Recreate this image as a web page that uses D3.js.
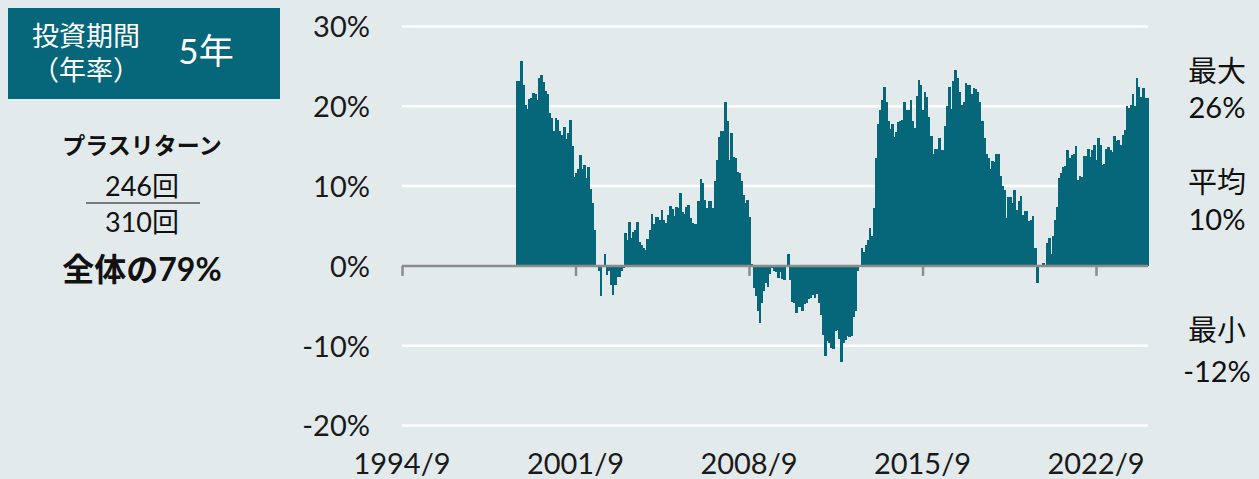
<!DOCTYPE html>
<html><head><meta charset="utf-8">
<script src="https://cdn.jsdelivr.net/npm/d3@7"></script>
<style>
html,body{margin:0;padding:0;background:#e3eaec;}
svg{display:block;}
text{font-family:Lato,"Noto Sans CJK JP",sans-serif;}
</style></head><body>
<svg id="c" width="1259" height="479"></svg>
<script>
// ---- data: 5-year annualised rolling returns (%), monthly, 310 observations ----
const returnsA = [23.2,23.2,25.7,22.7,20.2,19.6,20.9,21.0,21.7,21.6,20.8,23.6,23.9,23.1,21.9,21.6,19.2,18.5,16.9,18.5,18.3,16.9,16.4,17.4,15.9,16.6,18.3,15.0,11.2,11.7,12.2,13.9,12.1,12.7,11.0,12.4,9.6,7.9,4.5];
const returnsB = [0.1,-0.7,-3.8,0.0,1.5,-1.1,-0.6,-2.4,-3.7,-2.4,-1.4,-1.4,-0.6,-0.3];
const returnsC = [4.1,3.3,5.5,3.5,4.3,4.5,5.5,3.0,2.6,2.3,2.0,3.4,4.5,6.5,5.2,6.1,6.1,5.8,7.0,5.8,5.4,6.4,7.5,7.1,6.3,7.4,7.3,9.1,6.7,6.5,7.4,7.6,6.0,5.4,5.3,5.3,8.1,10.9,10.4,8.3,7.2,8.1,8.1,7.2,10.6,13.3,16.1,16.9,16.9];
const returnsD = [20.5,18.2,13.3,16.7,13.7,13.5,11.8,11.7,10.7,8.9,7.9,8.3,6.1,0.2,-2.8,-3.8,-5.7,-7.2,-4.7,-3.2,-2.2,-2.6,-1.0,-0.3,-0.7,-0.8,-1.5,-0.8,-1.6,-1.8,0.0,1.5,-1.8,-4.5,-4.6,-5.9,-5.1,-5.1,-5.7,-4.8,-4.6,-4.1,-4.0,-3.6,-4.0,-3.5,-4.7,-6.1,-8.6,-11.3,-9.4,-9.7,-10.3,-10.4,-8.1];
const returnsE = [-8.0,-9.2,-12.1,-9.7,-9.3,-8.8,-8.9,-8.8,-6.4,-5.7,-0.7,-0.2,2.2,1.7,2.6,3.3,4.7,3.7,7.3,13.5,17.8,19.5,20.8,22.4,20.5,18.2,17.1,17.8,16.1,16.8,18.0,18.1,18.3,20.6,19.5,19.5,20.8,18.2,17.3,21.3,23.3,22.7,19.5,21.8,21.2,18.7,16.3,14.0,14.7,14.6,16.0,14.5];
const returnsF = [14.5,17.5,20.0,22.4,19.6,23.2,24.6,23.5,21.8,20.2,20.6,22.9,22.7,22.7,21.5,22.3,22.2,21.8,20.6,18.1,16.0,14.0,13.5,12.1,13.1,13.0,14.0,14.0,11.3,10.0,9.5,6.0,8.6,8.6,7.9,9.5,7.0,8.1,8.8,6.4,6.9,6.9,5.6,5.8,6.2,2.3,-2.1,0.0,-0.1,0.4,0.0,2.9,3.5];
const returnsG = [1.5,3.7,5.7,7.4,11.0,11.7,12.4,12.5,14.5,13.5,13.9,14.0,15.0,10.8,11.3,11.2,13.8,13.8,14.6,13.6,14.5,15.1,13.3,16.0,15.2,12.7,12.8,14.6,14.9,14.5,14.3,16.3,15.7,15.8,15.2,16.4,17.0,20.0,19.8,20.2,21.6,20.0,23.5,22.4,21.2,22.3,21.0,21.0];

const xTickLabels = ["1994/9","2001/9","2008/9","2015/9","2022/9"];
const xTickMonths = [0,84,168,252,336];
const yTicks = [30,20,10,0,-10,-20];
const yTickLabels = ["30%","20%","10%","0%","-10%","-20%"];

const titleLines = ["投資期間","（年率）"];
const periodLabel = "5年";
const plusLabel = "プラスリターン";
const plusCount = "246回";
const totalCount = "310回";
const shareLabel = "全体の79%";
const statLabels = [["最大","26%"],["平均","10%"],["最小","-12%"]];

const values = [].concat(returnsA,returnsB,returnsC,returnsD,returnsE,returnsF,returnsG);

// ---- layout ----
const teal = "#06677b";
const svg = d3.select("#c");

const xMonth = d3.scaleLinear().domain([0,336]).range([402,1096]);
const barStart = 55.2, barEnd = 361.2;   // month positions of first / last bar edges
const plotLeft = xMonth(0), plotRight = xMonth(barEnd);
const xBar = d3.scaleBand().domain(d3.range(values.length)).range([xMonth(barStart), xMonth(barEnd)]).padding(0);
const y = d3.scaleLinear().domain([-20,30]).range([425.5,26.5]);

// gridlines
svg.append("g").selectAll("line").data(yTicks.filter(d=>d!==0)).join("line")
  .attr("x1",plotLeft).attr("x2",plotRight)
  .attr("y1",d=>y(d)).attr("y2",d=>y(d))
  .attr("stroke","#ffffff").attr("stroke-width",2.5);

// bars
svg.append("g").selectAll("rect").data(values).join("rect")
  .attr("x",(d,i)=>xBar(i))
  .attr("width",xBar.bandwidth()+0.6)
  .attr("y",d=>y(Math.max(0,d)))
  .attr("height",d=>Math.abs(y(d)-y(0)))
  .attr("fill",teal)
  .attr("shape-rendering","crispEdges");

// zero axis + ticks
const xAxis = d3.axisBottom(xMonth).tickValues(xTickMonths).tickSize(10).tickFormat("");
const gx = svg.append("g").attr("transform",`translate(0,${y(0)})`).call(xAxis);
gx.select(".domain").remove();
gx.selectAll(".tick line").attr("stroke","#8c8c8c").attr("stroke-width",2.5);
svg.append("line").attr("x1",plotLeft).attr("x2",plotRight).attr("y1",y(0)).attr("y2",y(0))
  .attr("stroke","#8c8c8c").attr("stroke-width",2.5);

// x labels
svg.append("g").selectAll("text").data(xTickMonths).join("text")
  .attr("x",d=>xMonth(d)).attr("y",474)
  .attr("text-anchor","middle").attr("font-size",29).attr("fill","#1a1a1a")
  .text((d,i)=>xTickLabels[i]);

// y labels
const yAxis = d3.axisLeft(y).tickValues(yTicks).tickSize(0).tickFormat((d,i)=>yTickLabels[i]);
const gy = svg.append("g").attr("transform",`translate(373,0)`).call(yAxis);
gy.select(".domain").remove();
gy.selectAll("text").attr("font-size",29).attr("fill","#1a1a1a")
  .attr("font-family",'Lato,"Noto Sans CJK JP",sans-serif').attr("dx",0).attr("dy","0.36em");

// title box
svg.append("rect").attr("x",8).attr("y",8).attr("width",272).attr("height",91).attr("fill",teal);
svg.append("text").attr("x",86).attr("y",46).attr("text-anchor","middle").attr("fill","#fff")
  .attr("font-size",27).text(titleLines[0]);
svg.append("text").attr("x",86).attr("y",80).attr("text-anchor","middle").attr("fill","#fff")
  .attr("font-size",27).text(titleLines[1]);
svg.append("text").attr("x",206).attr("y",64).attr("text-anchor","middle").attr("fill","#fff")
  .attr("font-size",35).text(periodLabel);

// plus-return block
svg.append("text").attr("x",142).attr("y",154).attr("text-anchor","middle").attr("fill","#111")
  .attr("font-size",23).attr("font-weight","bold").text(plusLabel);
svg.append("text").attr("x",142).attr("y",196).attr("text-anchor","middle").attr("fill","#111")
  .attr("font-size",27).text(plusCount);
svg.append("line").attr("x1",86).attr("x2",200).attr("y1",203).attr("y2",203)
  .attr("stroke","#555").attr("stroke-width",1.5);
svg.append("text").attr("x",142).attr("y",232).attr("text-anchor","middle").attr("fill","#111")
  .attr("font-size",27).text(totalCount);
svg.append("text").attr("x",142).attr("y",281).attr("text-anchor","middle").attr("fill","#111")
  .attr("font-size",32).attr("font-weight","bold").text(shareLabel);

// right stats
const statY = [[82,118],[193,230],[341,382]];
statLabels.forEach((s,i)=>{
  s.forEach((t,j)=>{
    svg.append("text").attr("x",1217).attr("y",statY[i][j]).attr("text-anchor","middle")
      .attr("fill","#111").attr("font-size",29).text(t);
  });
});
</script>
</body></html>
